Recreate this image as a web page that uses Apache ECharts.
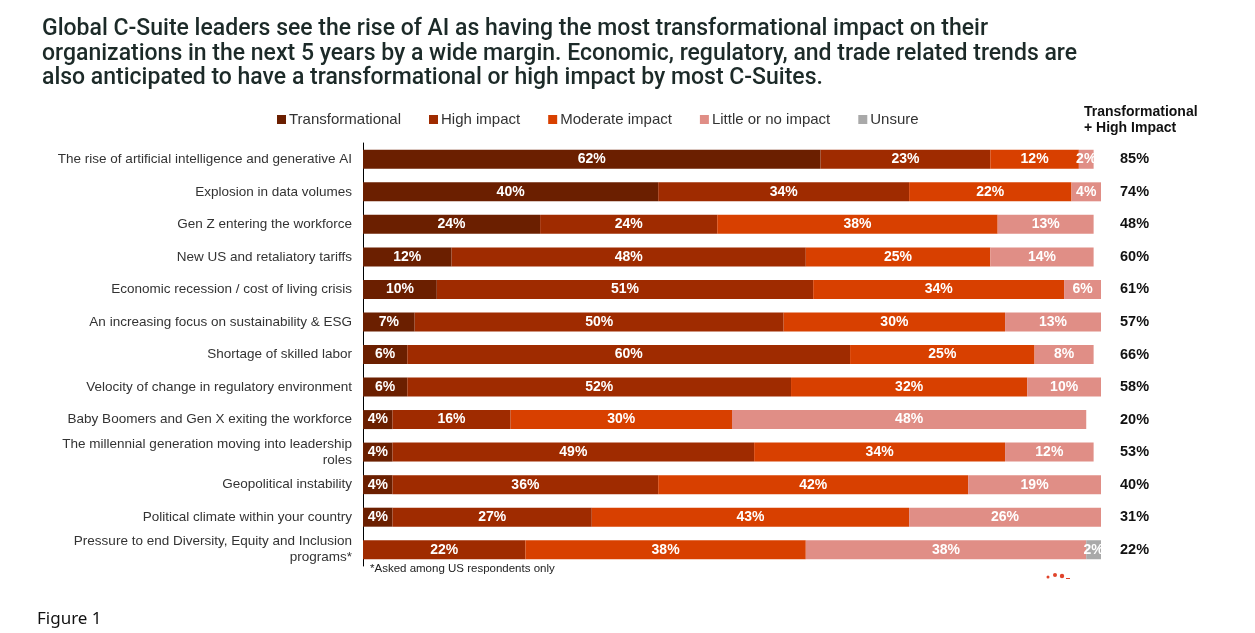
<!DOCTYPE html>
<html>
<head>
<meta charset="utf-8">
<script src="https://cdn.jsdelivr.net/npm/echarts@6/dist/echarts.min.js"></script>
<style>
    html, body { margin: 0; padding: 0; background: #fff; }
    #chart { width: 1255px; height: 633px; }
</style>
</head>
<body>
<div id="chart"></div>
<script>
var categories = [
    'The rise of artificial intelligence and generative AI',
    'Explosion in data volumes',
    'Gen Z entering the workforce',
    'New US and retaliatory tariffs',
    'Economic recession / cost of living crisis',
    'An increasing focus on sustainability & ESG',
    'Shortage of skilled labor',
    'Velocity of change in regulatory environment',
    'Baby Boomers and Gen X exiting the workforce',
    'The millennial generation moving into leadership\nroles',
    'Geopolitical instability',
    'Political climate within your country',
    'Pressure to end Diversity, Equity and Inclusion\nprograms*'
];
var transformational = [62, 40, 24, 12, 10, 7, 6, 6, 4, 4, 4, 4, 0];
var highImpact = [23, 34, 24, 48, 51, 50, 60, 52, 16, 49, 36, 27, 22];
var moderateImpact = [12, 22, 38, 25, 34, 30, 25, 32, 30, 34, 42, 43, 38];
var littleImpact = [2, 4, 13, 14, 6, 13, 8, 10, 48, 12, 19, 26, 38];
var unsure = [0, 0, 0, 0, 0, 0, 0, 0, 0, 0, 0, 0, 2];
var transHigh = [85, 74, 48, 60, 61, 57, 66, 58, 20, 53, 40, 31, 22];

var seriesNames = ['Transformational', 'High impact', 'Moderate impact', 'Little or no impact', 'Unsure'];
var seriesValues = [transformational, highImpact, moderateImpact, littleImpact, unsure];
var colors = ['#6b1f00', '#9f2b00', '#d84000', '#e08e86', '#a9a9a9'];

var chartDom = document.getElementById('chart');
var myChart = echarts.init(chartDom);

var seriesData = [];
for (var i = 0; i < seriesNames.length; i++) {
    seriesData.push({
        name: seriesNames[i],
        type: 'bar',
        stack: 'total',
        barWidth: 19,
        data: seriesValues[i],
        itemStyle: { color: colors[i] },
        label: {
            show: true,
            position: 'inside',
            color: '#fff',
            fontFamily: 'Liberation Sans',
            fontWeight: 'bold',
            fontSize: 14,
            formatter: function (p) {
                return p.value > 0 ? p.value + '%' : '';
            }
        }
    });
}

var option = {
    animation: false,
    textStyle: { fontFamily: 'Liberation Sans' },
    title: {
        text: 'Global C-Suite leaders see the rise of AI as having the most transformational impact on their\n'
            + 'organizations in the next 5 years by a wide margin. Economic, regulatory, and trade related trends are\n'
            + 'also anticipated to have a transformational or high impact by most C-Suites.',
        left: 42,
        top: 17,
        padding: 0,
        textStyle: {
            fontFamily: 'Roboto',
            fontWeight: 500,
            fontSize: 23,
            lineHeight: 24.5,
            color: '#1c2a28'
        }
    },
    legend: {
        data: seriesNames,
        left: 277,
        top: 112,
        padding: 0,
        itemWidth: 9,
        itemHeight: 9,
        itemGap: 28,
        icon: 'rect',
        textStyle: { fontSize: 15, color: '#333', fontFamily: 'Liberation Sans', padding: [0, 0, 0, -2] }
    },
    grid: {
        left: 363,
        right: 154,
        top: 143,
        bottom: 67
    },
    xAxis: {
        type: 'value',
        min: 0,
        max: 100,
        show: false
    },
    yAxis: [{
        type: 'category',
        data: categories,
        inverse: true,
        axisLine: { show: true, lineStyle: { color: '#000', width: 1 } },
        axisTick: { show: false },
        axisLabel: {
            margin: 11,
            fontSize: 13.5,
            color: '#333',
            lineHeight: 16,
            fontFamily: 'Liberation Sans'
        }
    }, {
        type: 'category',
        data: transHigh.map(function (v) { return v + '%'; }),
        inverse: true,
        position: 'right',
        axisLine: { show: false },
        axisTick: { show: false },
        axisLabel: {
            margin: 19,
            fontSize: 14.5,
            fontWeight: 'bold',
            color: '#111',
            fontFamily: 'Liberation Sans'
        }
    }],
    graphic: [
        {
            type: 'text', left: 1084, top: 104,
            style: { text: 'Transformational\n+ High Impact', fontFamily: 'Liberation Sans', fontWeight: 'bold', fontSize: 14, lineHeight: 16, fill: '#111', align: 'center' }
        },
        {
            type: 'text', left: 370, top: 563,
            style: { text: '*Asked among US respondents only', fontFamily: 'Liberation Sans', fontSize: 11.5, fill: '#222' }
        },
        {
            type: 'text', left: 37, top: 611,
            style: { text: 'Figure 1', fontFamily: 'Noto Sans', fontSize: 17, fill: '#111' }
        },
        { type: 'circle', shape: { cx: 1048, cy: 577, r: 1.5 }, style: { fill: '#e0442b' } },
        { type: 'circle', shape: { cx: 1055, cy: 575, r: 2 }, style: { fill: '#e0442b' } },
        { type: 'circle', shape: { cx: 1062, cy: 576, r: 2.2 }, style: { fill: '#e0442b' } },
        { type: 'rect', shape: { x: 1066, y: 578, width: 4, height: 1 }, style: { fill: '#e0442b' } }
    ],
    series: seriesData
};

option && myChart.setOption(option);
</script>
</body>
</html>
